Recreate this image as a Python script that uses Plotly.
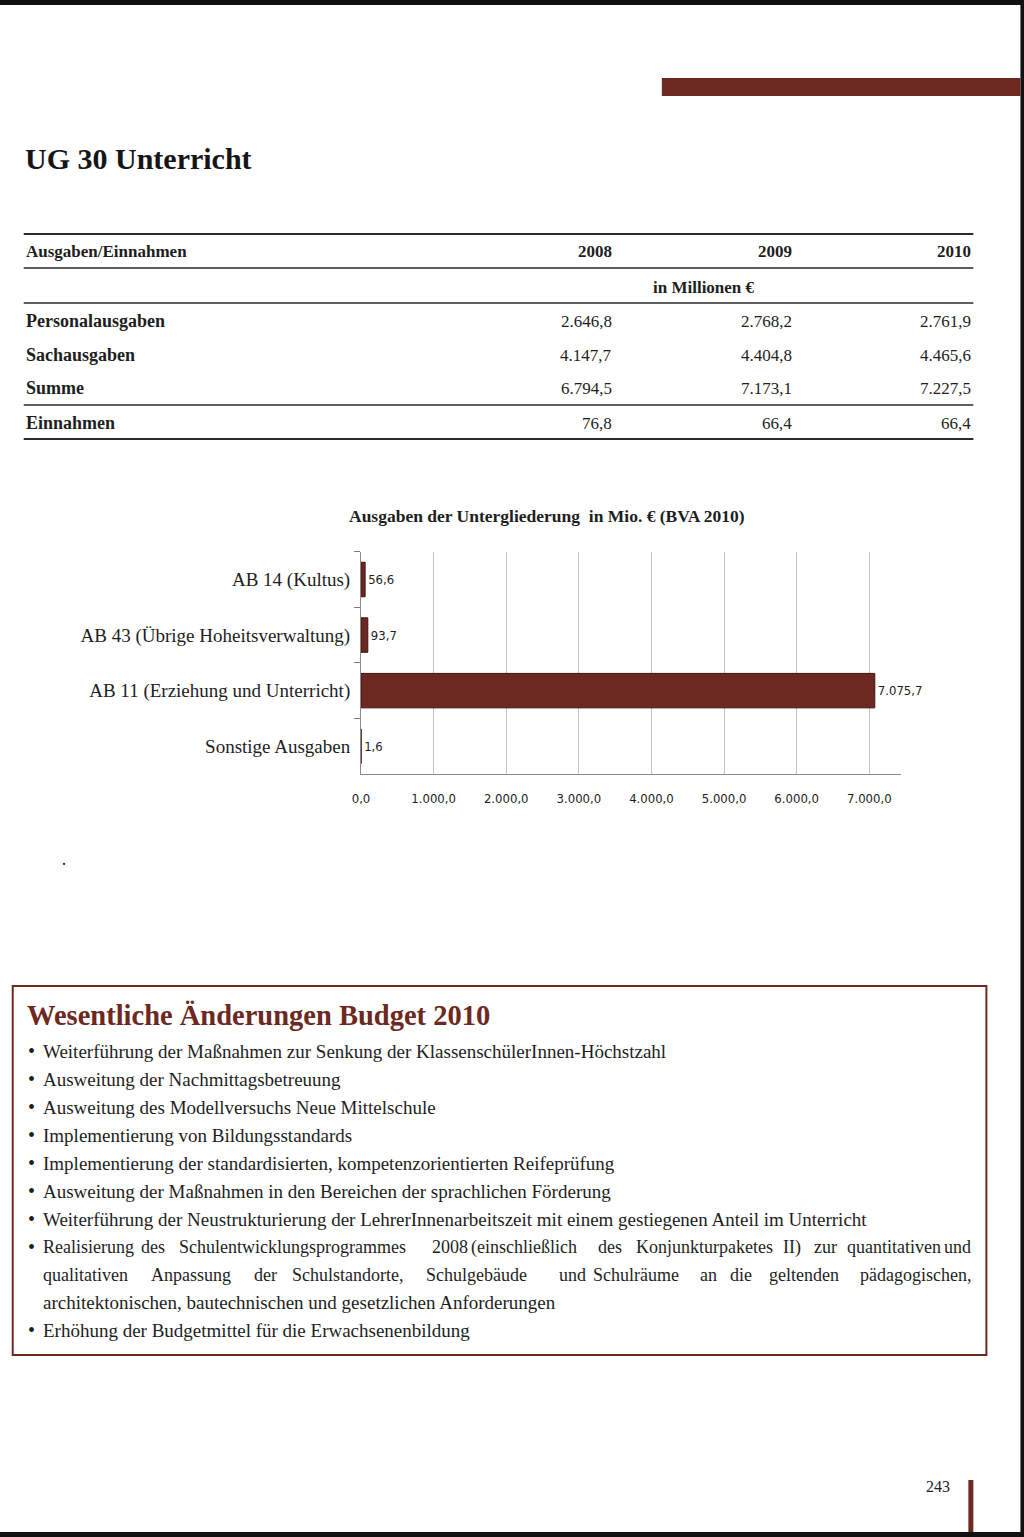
import plotly.graph_objects as go

W, H = 1024, 1537
SERIF = "Liberation Serif, Times New Roman, serif"
NARROW = "Liberation Sans Narrow, Arial Narrow, DejaVu Sans Condensed, Liberation Sans, sans-serif"
MAROON = "#6d2822"
INK = "#1e1e1e"

# ---------------- data ----------------
categories = ["AB 14 (Kultus)", "AB 43 (Übrige Hoheitsverwaltung)",
              "AB 11 (Erziehung und Unterricht)", "Sonstige Ausgaben"]
values = [56.6, 93.7, 7075.7, 1.6]
x_ticks = [0, 1000, 2000, 3000, 4000, 5000, 6000, 7000]

table_years = ["2008", "2009", "2010"]
table_rows = ["Personalausgaben", "Sachausgaben", "Summe", "Einnahmen"]
table_values = [
    ["2.646,8", "2.768,2", "2.761,9"],
    ["4.147,7", "4.404,8", "4.465,6"],
    ["6.794,5", "7.173,1", "7.227,5"],
    ["76,8", "66,4", "66,4"],
]

bullets = [
    "Weiterführung der Maßnahmen zur Senkung der KlassenschülerInnen-Höchstzahl",
    "Ausweitung der Nachmittagsbetreuung",
    "Ausweitung des Modellversuchs Neue Mittelschule",
    "Implementierung von Bildungsstandards",
    "Implementierung der standardisierten, kompetenzorientierten Reifeprüfung",
    "Ausweitung der Maßnahmen in den Bereichen der sprachlichen Förderung",
    "Weiterführung der Neustrukturierung der LehrerInnenarbeitszeit mit einem gestiegenen Anteil im Unterricht",
]
long_bullet_line1 = ["Realisierung", "des", "Schulentwicklungsprogrammes", "2008",
                     "(einschließlich", "des", "Konjunkturpaketes", "II)", "zur",
                     "quantitativen", "und"]
long_bullet_line2 = ["qualitativen", "Anpassung", "der", "Schulstandorte,", "Schulgebäude",
                     "und", "Schulräume", "an", "die", "geltenden", "pädagogischen,"]
long_bullet_line3 = "architektonischen, bautechnischen und gesetzlichen Anforderungen"
last_bullet = "Erhöhung der Budgetmittel für die Erwachsenenbildung"

# the photographed page shows a small horizontal offset/squeeze; compensate it
X_OFF, X_SCALE = 10.3, 0.9895


def px(x):
    return (x - X_OFF) / X_SCALE / W


def py(y):
    return 1 - y / H


fig = go.Figure()
fig.add_trace(go.Bar(
    y=categories, x=values, orientation="h", width=0.62,
    marker=dict(color=MAROON, line=dict(color="#3d1410", width=1)),
    texttemplate="%{x:,.1f}", textposition="outside", cliponaxis=False,
    textfont=dict(family=NARROW, size=13, color=INK),
    hoverinfo="skip",
))

ann = []
shapes = []


def text(x, y, s, size=17, bold=False, anchor="left", color=INK, family=SERIF):
    ann.append(dict(x=px(x), y=py(y), xref="paper", yref="paper", text=("<b>%s</b>" % s) if bold else s,
                    showarrow=False, xanchor=anchor, yanchor="middle",
                    font=dict(family=family, size=size, color=color)))


def hline(y, x0, x1, w=1.5, color="#2a2a2a"):
    shapes.append(dict(type="line", xref="paper", yref="paper", x0=px(x0), x1=px(x1),
                       y0=py(y), y1=py(y), line=dict(color=color, width=w)))


def rect(x0, y0, x1, y1, fill=None, line=None, lw=0):
    shapes.append(dict(type="rect", xref="paper", yref="paper", x0=px(x0), x1=px(x1),
                       y0=py(y1), y1=py(y0), fillcolor=fill or "rgba(0,0,0,0)",
                       line=dict(color=line or "rgba(0,0,0,0)", width=lw)))


# page border (scan edges)
rect(0, 0, 1030, 5, fill="#111")
rect(1020, 0, 1030, 1537, fill="#111")
rect(0, 1532, 1030, 1537, fill="#111")

# top maroon bar
rect(662, 78, 1020, 96, fill=MAROON)

# title
text(24, 158, "UG 30 Unterricht", size=30, bold=True, color="#151515")

# table
for y, w in [(234, 2), (268, 1.5), (303, 1.5), (405, 1.5), (439, 2)]:
    hline(y, 25, 973, w)
text(25, 252, "Ausgaben/Einnahmen", size=17, bold=True)
col_x = [614, 794, 973]
for cx, yr in zip(col_x, table_years):
    text(cx, 252, yr, size=17, bold=True, anchor="right")
text(704, 287, "in Millionen €", size=17, bold=True, anchor="center")
row_y = [321, 355, 388, 423]
for ry, lab, vals in zip(row_y, table_rows, table_values):
    text(25, ry, lab, size=18, bold=True)
    for cx, v in zip(col_x, vals):
        text(cx, ry, v, size=17, anchor="right")

# chart title
text(547, 516, "Ausgaben der Untergliederung  in Mio. € (BVA 2010)", size=17.5, bold=True, anchor="center")

# stray dot
text(60, 864, "·", size=18)

# text box
rect(14, 986, 986, 1355, line=MAROON, lw=2)
text(26, 1015, "Wesentliche Änderungen Budget 2010", size=28.5, bold=True, color=MAROON)
line_y = [1051, 1079, 1107, 1135, 1163, 1191, 1219]
for yy, b in zip(line_y, bullets):
    text(27, yy, "•", size=20)
    text(42, yy, b, size=19)
# justified long bullet
text(27, 1247, "•", size=20)
w1 = [42, 140, 178, 431, 470, 596, 634, 781, 812, 845]
for xx, wd in zip(w1, long_bullet_line1[:-1]):
    text(xx, 1247, wd, size=18)
text(973, 1247, long_bullet_line1[-1], size=18, anchor="right")
w2 = [42, 150, 253, 291, 425, 557, 591, 698, 728, 767]
for xx, wd in zip(w2, long_bullet_line2[:-1]):
    text(xx, 1275, wd, size=18)
text(973, 1275, long_bullet_line2[-1], size=18, anchor="right")
text(42, 1302, long_bullet_line3, size=19)
text(27, 1330, "•", size=20)
text(42, 1330, last_bullet, size=19)

# page number
text(952, 1486, "243", size=16, anchor="right")
rect(968, 1480, 973, 1532, fill=MAROON)

fig.update_layout(
    autosize=True, margin=dict(l=0, r=0, t=0, b=0, pad=0),
    paper_bgcolor="white", plot_bgcolor="white",
    separators=",.", showlegend=False, bargap=0.38,
    annotations=ann, shapes=shapes,
    xaxis=dict(domain=[px(361.7), px(901)], range=[0, 7440], tickvals=x_ticks,
               tickformat=",.1f", showgrid=True, gridcolor="#c4c4c4", gridwidth=1,
               showline=True, linecolor="#8a8a8a", linewidth=1, zeroline=False,
               ticks="", ticklabelstandoff=12,
               tickfont=dict(family=NARROW, size=13, color=INK), fixedrange=True),
    yaxis=dict(domain=[py(774), py(551.7)], type="category",
               categoryorder="array", categoryarray=categories, autorange="reversed",
               tickson="boundaries", ticks="outside", ticklen=6, tickcolor="#7a7a7a",
               showline=True, linecolor="#8a8a8a", linewidth=1, showgrid=False,
               ticklabelstandoff=6,
               tickfont=dict(family=SERIF, size=19, color=INK), fixedrange=True),
)

fig.write_html("out.html", config={"displayModeBar": False, "responsive": True},
               default_width="100vw", default_height="100vh")

with open("out.html", "r", encoding="utf-8") as f:
    html = f.read()
css = ("<style>html,body{margin:0;padding:0;overflow:hidden;"
       "background:linear-gradient(to right,#111 0px,#111 3px,#ffffff 3px);}</style>")
html = html.replace("<head>", "<head>" + css, 1)
with open("out.html", "w", encoding="utf-8") as f:
    f.write(html)
